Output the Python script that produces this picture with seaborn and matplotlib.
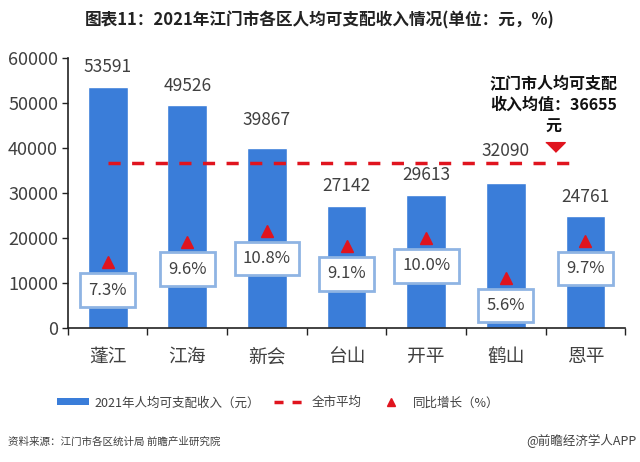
import matplotlib
matplotlib.use("Agg")
import matplotlib.pyplot as plt
import seaborn as sns
import pandas as pd
from matplotlib.patches import Patch
from matplotlib.lines import Line2D

districts = ["蓬江", "江海", "新会", "台山", "开平", "鹤山", "恩平"]
income = [53591, 49526, 39867, 27142, 29613, 32090, 24761]
growth = [7.3, 9.6, 10.8, 9.1, 10.0, 5.6, 9.7]
city_avg = 36655

sns.set_theme(style="white")
plt.rcParams["font.family"] = ["Noto Sans CJK SC", "DejaVu Sans"]

bar_color = "#3a7dd9"
red = "#e0141e"
text_color = "#404040"

df = pd.DataFrame({"district": districts, "income": income, "growth": growth})

fig = plt.figure(figsize=(6.4, 4.62), dpi=100)
ax = fig.add_axes([0.106, 0.29, 0.871, 0.585])

sns.barplot(data=df, x="district", y="income", color=bar_color, width=0.5,
            saturation=1, ax=ax)

ax.set_xlim(-0.5, 6.5)
ax.set_ylim(0, 60000)
ax.set_yticks(range(0, 60001, 10000))
ax.set_xlabel("")
ax.set_ylabel("")
for s in ["top", "right"]:
    ax.spines[s].set_visible(False)
for s in ["left", "bottom"]:
    ax.spines[s].set_color("#222222")
    ax.spines[s].set_linewidth(1.2)
ax.tick_params(axis="y", labelsize=13, labelcolor=text_color, length=4, width=1,
               left=True, color="#222222", pad=3)
ax.tick_params(axis="x", labelsize=13.5, labelcolor=text_color, length=0, pad=13)
# tick marks between the categories
ax.set_xticks([i + 0.5 for i in range(-1, 7)], minor=True)
ax.tick_params(axis="x", which="minor", length=5, width=1, color="#222222", bottom=True)

# value labels above bars (two of them lifted clear of the average line)
for i, v in enumerate(income):
    lift = {2: 2000, 5: 3000}.get(i, 0)
    ax.text(i, v + 2300 + lift, str(v), ha="center", va="bottom", fontsize=12.5,
            color=text_color)

# city average dashed line
ax.plot([0, 5.85], [city_avg, city_avg], color=red, lw=2.5, dashes=(3.5, 3.3))
ax.plot([5.62], [city_avg + 3600], marker=[(-1, 0.5), (1, 0.5), (0, -0.5)],
        color=red, markersize=14, linestyle="none")
ax.text(5.6, city_avg + 6300, "江门市人均可支配\n收入均值：36655\n元", ha="center",
        va="bottom", fontsize=11.5, fontweight="bold", color="#111111",
        linespacing=1.45)

# growth rate markers on secondary scale
ax2 = ax.twinx()
ax2.set_ylim(0, 30)
ax2.plot(range(len(growth)), growth, marker="^", color=red, markersize=8,
         linestyle="none")
ax2.axis("off")
for i, g in enumerate(growth):
    ax2.annotate(f"{g}%", (i, g), xytext=(0, -20), textcoords="offset points",
                 ha="center", va="center", fontsize=12, color=text_color,
                 bbox=dict(boxstyle="square,pad=0.5", fc="white",
                           ec="#8fb4e3", lw=2))

fig.text(0.5, 0.955, "图表11：2021年江门市各区人均可支配收入情况(单位：元，%)",
         ha="center", va="center", fontsize=12, fontweight="bold",
         color="#222222")

handles = [
    Patch(facecolor=bar_color, edgecolor="none"),
    Line2D([0], [0], color=red, lw=2.5, dashes=(2.6, 2.6)),
    Line2D([0], [0], color=red, marker="^", linestyle="none", markersize=6),
]
labels = ["2021年人均可支配收入（元）", "全市平均", "同比增长（%）"]
fig.legend(handles, labels, loc="center", bbox_to_anchor=(0.435, 0.128),
           ncol=3, frameon=False, fontsize=9, handlelength=2.5,
           handleheight=0.5, handletextpad=0.5, columnspacing=1.1,
           labelcolor=text_color)

fig.text(0.012, 0.045, "资料来源：江门市各区统计局 前瞻产业研究院", ha="left",
         va="center", fontsize=7.6, color=text_color)
fig.text(0.995, 0.045, "@前瞻经济学人APP", ha="right", va="center",
         fontsize=9, color=text_color)

fig.savefig("out.png", dpi=100)
